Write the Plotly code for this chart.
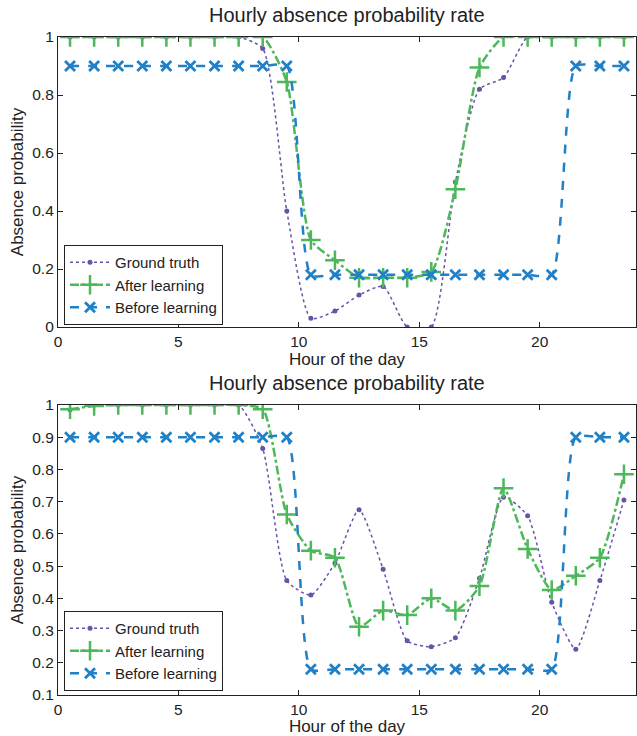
import plotly.graph_objects as go

hours = [h + 0.5 for h in range(24)]

truth_top = [1, 1, 1, 1, 1, 1, 1, 1, 0.96, 0.40, 0.03, 0.055, 0.11, 0.14, 0.0, 0.0,
             0.50, 0.82, 0.86, 1, 1, 1, 1, 1]
after_top = [1, 1, 1, 1, 1, 1, 1, 1, 1, 0.845, 0.30, 0.23, 0.17, 0.17, 0.17, 0.19,
             0.475, 0.895, 1, 1, 1, 1, 1, 1]
before_top = [0.9] * 10 + [0.18] * 11 + [0.9] * 3

truth_bot = [0.985, 1, 1, 1, 1, 1, 1, 1, 0.865, 0.455, 0.41, 0.51, 0.675, 0.49, 0.268, 0.25,
             0.278, 0.462, 0.714, 0.656, 0.388, 0.242, 0.455, 0.705]
after_bot = [0.987, 0.997, 1, 1, 1, 1, 1, 1, 0.987, 0.66, 0.548, 0.526, 0.312, 0.362, 0.348, 0.40,
             0.362, 0.438, 0.742, 0.553, 0.426, 0.47, 0.526, 0.785]
before_bot = [0.9] * 10 + [0.18] * 11 + [0.9] * 3

names = ["Ground truth", "After learning", "Before learning"]
PURPLE = "#6a52a8"
GREEN = "#4cb85a"
BLUE = "#2080c8"
FONT = "Liberation Sans, Arial, sans-serif"
TXT = "#222"

fig = go.Figure()

def add_set(truth, after, before, xa, ya, legend):
    fig.add_trace(go.Scatter(
        x=hours, y=truth, name=names[0], xaxis=xa, yaxis=ya, legend=legend,
        mode="lines+markers",
        line=dict(color=PURPLE, width=1.5, dash="dot", shape="spline", smoothing=0.6),
        marker=dict(symbol="circle", size=5, color=PURPLE)))
    fig.add_trace(go.Scatter(
        x=hours, y=after, name=names[1], xaxis=xa, yaxis=ya, legend=legend,
        mode="lines+markers",
        line=dict(color=GREEN, width=2.5, dash="dashdot", shape="spline", smoothing=0.6),
        marker=dict(symbol="cross-thin", size=14, color=GREEN,
                    line=dict(color=GREEN, width=2.5))))
    fig.add_trace(go.Scatter(
        x=hours, y=before, name=names[2], xaxis=xa, yaxis=ya, legend=legend,
        mode="lines+markers",
        line=dict(color=BLUE, width=2.5, dash="dash", shape="spline", smoothing=0.6),
        marker=dict(symbol="x-thin", size=10, color=BLUE,
                    line=dict(color=BLUE, width=2.8))))

add_set(truth_top, after_top, before_top, "x", "y", "legend")
add_set(truth_bot, after_bot, before_bot, "x2", "y2", "legend2")

axis_common = dict(showline=True, linecolor=TXT, linewidth=1.2, mirror="ticks",
                   ticks="inside", ticklen=5, tickcolor=TXT, showgrid=False,
                   zeroline=False, tickfont=dict(size=15.5, color=TXT, family=FONT))

top_dom = [1 - 290 / 658, 1]
bot_dom = [0, 290 / 658]

legend_common = dict(bordercolor=TXT, borderwidth=1, bgcolor="white",
                     font=dict(size=15, color=TXT, family=FONT),
                     xanchor="left", yanchor="bottom", tracegroupgap=0,
                     itemwidth=40)

xtitle = dict(text="Hour of the day", font=dict(size=17, family=FONT, color=TXT), standoff=0)
ytitle = dict(text="Absence probability", font=dict(size=17, family=FONT, color=TXT), standoff=4)

fig.update_layout(
    width=637, height=736,
    margin=dict(l=58, r=1, t=37, b=41),
    paper_bgcolor="white", plot_bgcolor="white",
    font=dict(family=FONT, color=TXT),
    xaxis=dict(axis_common, domain=[0, 1], range=[0, 24], tickvals=[0, 5, 10, 15, 20],
               anchor="y", title=xtitle),
    yaxis=dict(axis_common, domain=top_dom, range=[0, 1],
               tickvals=[0, 0.2, 0.4, 0.6, 0.8, 1], ticktext=["0", "0.2", "0.4", "0.6", "0.8", "1"],
               anchor="x", title=ytitle),
    xaxis2=dict(axis_common, domain=[0, 1], range=[0, 24], tickvals=[0, 5, 10, 15, 20],
                anchor="y2", title=xtitle),
    yaxis2=dict(axis_common, domain=bot_dom, range=[0.1, 1],
                tickvals=[0.1, 0.2, 0.3, 0.4, 0.5, 0.6, 0.7, 0.8, 0.9, 1],
                ticktext=["0.1", "0.2", "0.3", "0.4", "0.5", "0.6", "0.7", "0.8", "0.9", "1"],
                anchor="x2", title=ytitle),
    legend=dict(legend_common, x=0.0104, y=(695 - 325) / 658),
    legend2=dict(legend_common, x=0.0104, y=(695 - 691) / 658),
    annotations=[
        dict(text="Hourly absence probability rate", x=0.5, xref="paper", y=1, yref="paper",
             yshift=22, showarrow=False, font=dict(size=20, family=FONT, color=TXT),
             xanchor="center", yanchor="middle"),
        dict(text="Hourly absence probability rate", x=0.5, xref="paper", y=bot_dom[1], yref="paper",
             yshift=22, showarrow=False, font=dict(size=20, family=FONT, color=TXT),
             xanchor="center", yanchor="middle"),
    ],
)

fig.write_html("out.html")
